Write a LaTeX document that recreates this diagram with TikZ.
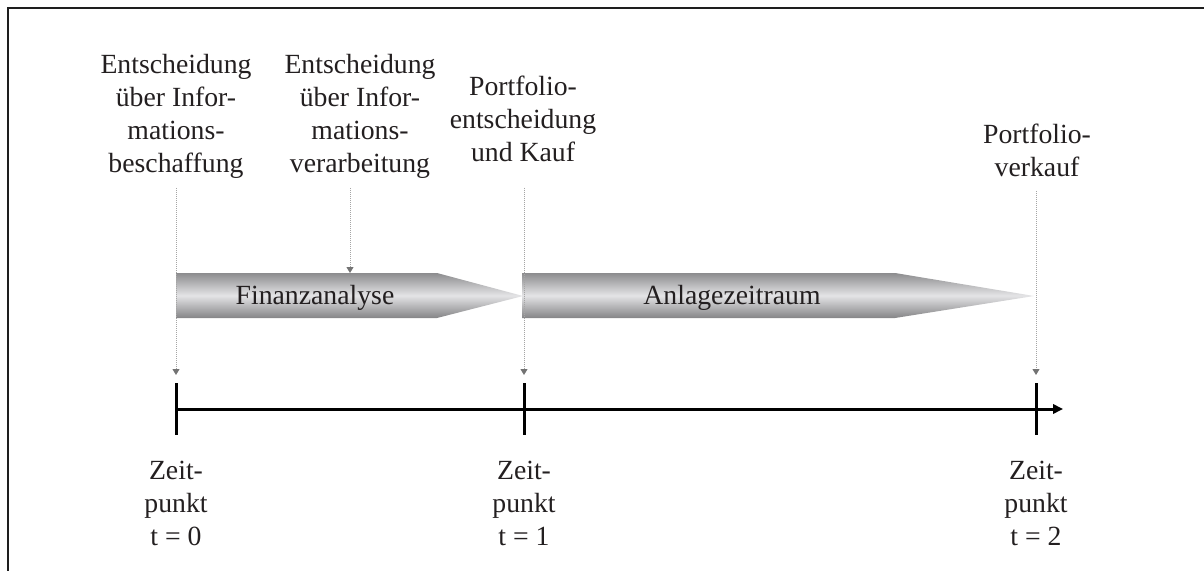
\documentclass[tikz,border=0pt]{standalone}
\usepackage{fontspec}
\setmainfont{Liberation Serif}
\usetikzlibrary{arrows.meta}
\definecolor{ink}{RGB}{35,31,32}
\definecolor{frameink}{RGB}{30,30,30}
\definecolor{guidegray}{RGB}{165,165,165}
\definecolor{tipgray}{RGB}{115,115,115}
\definecolor{bandtop}{RGB}{140,140,142}
\definecolor{bandmid}{RGB}{228,228,230}
\definecolor{bandbot}{RGB}{132,132,134}
\begin{document}
\begin{tikzpicture}[x=0.75pt,y=-0.75pt,
  lbl/.style={font=\fontsize{20.8}{24.75}\selectfont, align=center, inner sep=0pt, text=ink, anchor=north},
  bandtext/.style={font=\fontsize{20.8}{24.75}\selectfont, inner sep=0pt, text=ink, anchor=base},
  guide/.style={draw=guidegray, line width=0.75pt, dash pattern=on 0.75pt off 0.75pt,
    -{Triangle[length=4.5pt,width=5.25pt,color=tipgray]}},
  tickmark/.style={draw=black, line width=2.25pt},
  axisline/.style={draw=black, line width=2.25pt, -{Triangle[length=7.5pt,width=7pt]}},
  band/.style={top color=bandtop, bottom color=bandbot, middle color=bandmid},
  framing/.style={draw=frameink, line width=1.5pt}]
\useasboundingbox (0,0) rectangle (1204,571);

% frame (top and left edges)
\coordinate (fr-tr) at (1204,8);
\coordinate (fr-tl) at (8,8);
\coordinate (fr-bl) at (8,571);
\draw[framing] (fr-tr) -- (fr-tl) -- (fr-bl);

% points in time on the axis
\coordinate (t0) at (176,409);
\coordinate (t1) at (524,409);
\coordinate (t2) at (1036,409);
\coordinate (axis-end) at (1063,409);
\coordinate (t0top) at (176,383);
\coordinate (t1top) at (524,383);
\coordinate (t2top) at (1036,383);
\coordinate (t0bot) at (176,435);
\coordinate (t1bot) at (524,435);
\coordinate (t2bot) at (1036,435);

% time axis and tick marks
\draw[axisline] (t0) -- (axis-end);
\draw[tickmark] (t0top) -- (t0bot);
\draw[tickmark] (t1top) -- (t1bot);
\draw[tickmark] (t2top) -- (t2bot);

% phase bands
\shade[band] (176,273) -- (437,273) -- (523,296) -- (437,318) -- (176,318) -- cycle;
\shade[band] (522,273) -- (895,273) -- (1034,296) -- (895,318) -- (522,318) -- cycle;
\node[bandtext] (fa) at (315,304) {Finanzanalyse};
\node[bandtext] (az) at (732,304) {Anlagezeitraum};
\coordinate (fa-in) at (350,273);

% decision labels
\node[lbl] (lab1) at (176,54) {Entscheidung\\über Infor-\\mations-\\beschaffung};
\node[lbl] (lab2) at (360,54) {Entscheidung\\über Infor-\\mations-\\verarbeitung};
\node[lbl] (lab3) at (523,76) {Portfolio-\\entscheidung\\und Kauf};
\node[lbl] (lab4) at (1037,124) {Portfolio-\\verkauf};

% time point labels
\node[lbl] (z0) at (176,461) {Zeit-\\punkt\\t = 0};
\node[lbl] (z1) at (524,461) {Zeit-\\punkt\\t = 1};
\node[lbl] (z2) at (1036,461) {Zeit-\\punkt\\t = 2};

% dotted guides from the decisions
\draw[guide, shorten <=6.75pt, shorten >=6pt] (lab1.south) -- (t0top);
\draw[guide, shorten <=6.75pt] (lab2.south -| fa-in) -- (fa-in);
\draw[guide, shorten <=19pt, shorten >=6pt] (lab3.south -| t1top) -- (t1top);
\draw[guide, shorten <=10.5pt, shorten >=6pt] (lab4.south -| t2top) -- (t2top);
\end{tikzpicture}
\end{document}
